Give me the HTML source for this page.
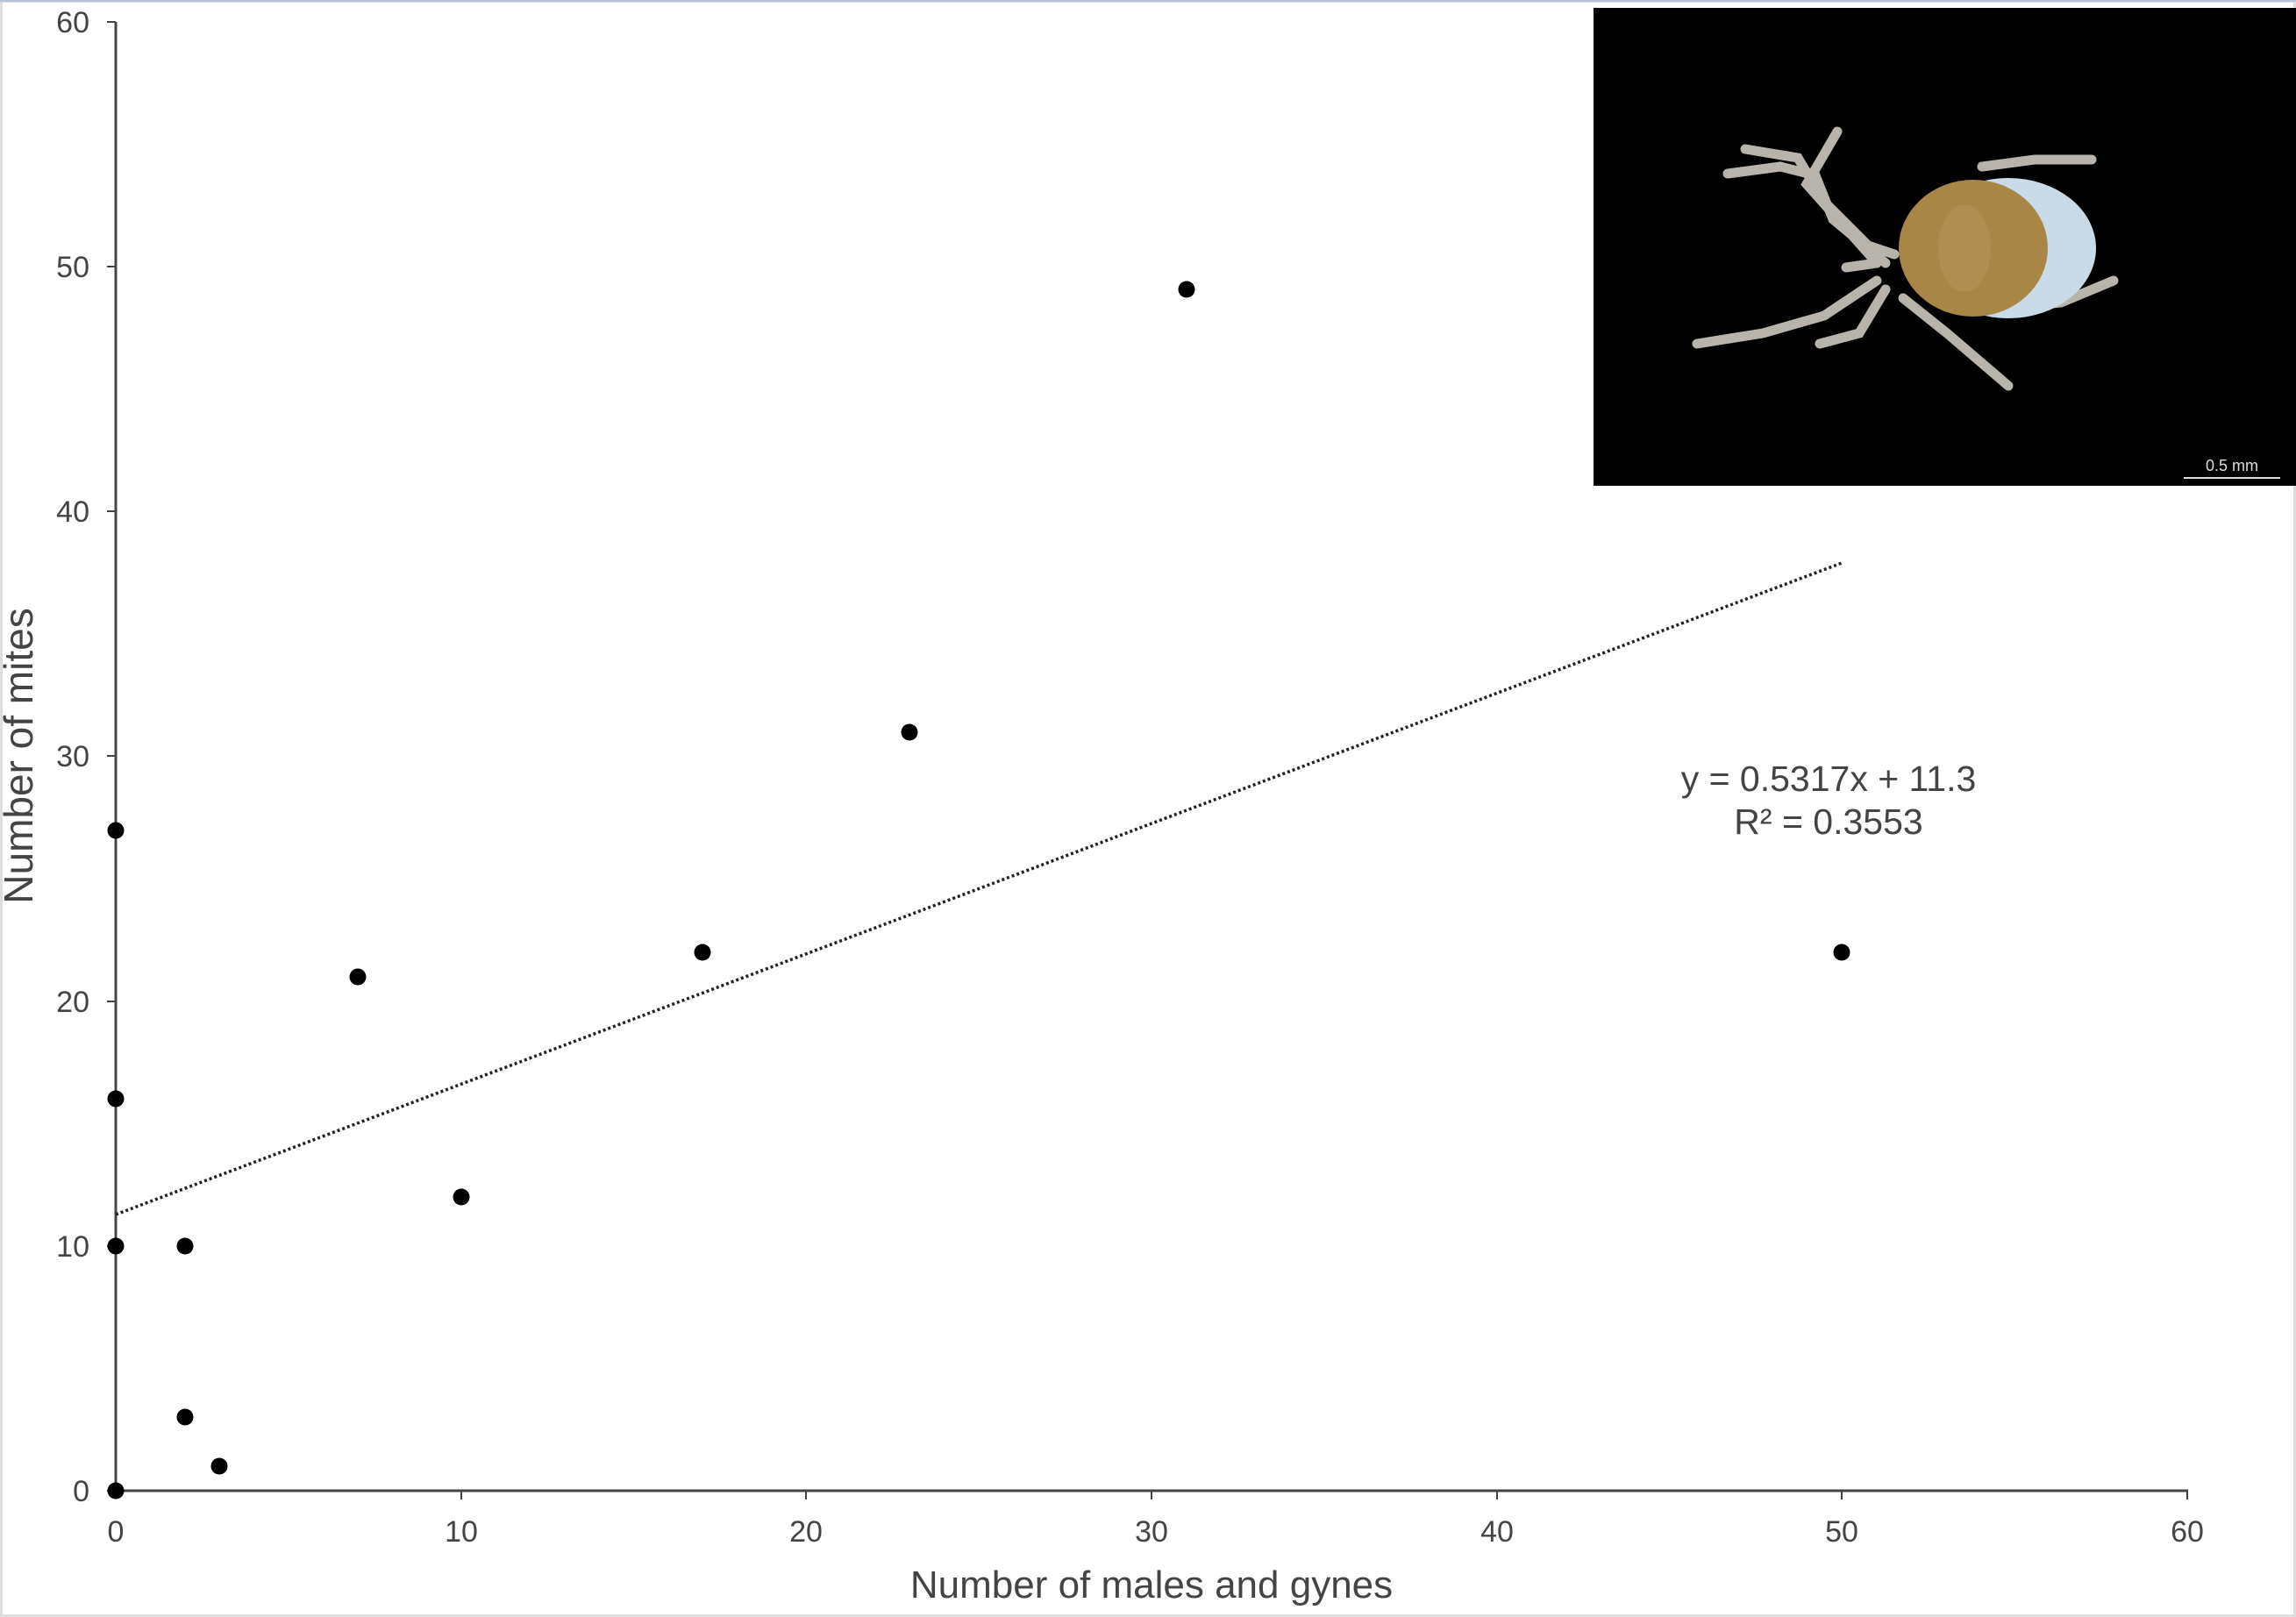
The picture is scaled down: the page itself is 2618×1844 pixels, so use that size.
<!DOCTYPE html>
<html><head><style>
html,body{margin:0;padding:0;background:#fff;}
svg{display:block;}
text{font-family:"Liberation Sans",Arial,sans-serif;fill:#444;}
</style></head><body>
<svg width="2618" height="1844" viewBox="0 0 2618 1844" xmlns="http://www.w3.org/2000/svg">
<rect x="0" y="0" width="2618" height="1844" fill="#fff"/>
<rect x="1.5" y="1.5" width="2615" height="1841" fill="none" stroke="#ddd" stroke-width="3"/>
<line x1="0" y1="1" x2="2618" y2="1" stroke="#b8c4dc" stroke-width="2"/>
<line x1="132" y1="25" x2="132" y2="1701" stroke="#444" stroke-width="3"/>
<line x1="131" y1="1700" x2="2495" y2="1700" stroke="#444" stroke-width="3"/>
<g stroke="#444" stroke-width="2">
<line x1="122" y1="25" x2="132" y2="25"/><line x1="122" y1="304" x2="132" y2="304"/><line x1="122" y1="583" x2="132" y2="583"/><line x1="122" y1="862" x2="132" y2="862"/><line x1="122" y1="1142" x2="132" y2="1142"/><line x1="122" y1="1421" x2="132" y2="1421"/><line x1="122" y1="1700" x2="132" y2="1700"/>
<line x1="526" y1="1700" x2="526" y2="1710"/><line x1="919" y1="1700" x2="919" y2="1710"/><line x1="1313" y1="1700" x2="1313" y2="1710"/><line x1="1707" y1="1700" x2="1707" y2="1710"/><line x1="2100" y1="1700" x2="2100" y2="1710"/><line x1="2494" y1="1700" x2="2494" y2="1710"/>
</g>
<g font-size="34" text-anchor="end">
<text x="102" y="37">60</text><text x="102" y="316">50</text><text x="102" y="595">40</text><text x="102" y="874">30</text><text x="102" y="1154">20</text><text x="102" y="1433">10</text><text x="102" y="1712">0</text>
</g>
<g font-size="34" text-anchor="middle">
<text x="132" y="1758">0</text><text x="526" y="1758">10</text><text x="919" y="1758">20</text><text x="1313" y="1758">30</text><text x="1707" y="1758">40</text><text x="2100" y="1758">50</text><text x="2494" y="1758">60</text>
</g>
<text x="1313" y="1822" font-size="44" text-anchor="middle">Number  of males and gynes</text>
<text transform="translate(37,862) rotate(-90)" font-size="46" text-anchor="middle">Number  of mites</text>
<line x1="132" y1="1385" x2="2100" y2="642" stroke="#222" stroke-width="3.5" stroke-dasharray="3,3"/>
<g fill="#000">
<circle cx="132" cy="1700" r="9.5"/><circle cx="132" cy="1421" r="9.5"/><circle cx="132" cy="1253" r="9.5"/><circle cx="132" cy="947" r="9.5"/>
<circle cx="211" cy="1421" r="9.5"/><circle cx="211" cy="1616" r="9.5"/><circle cx="250" cy="1672" r="9.5"/>
<circle cx="408" cy="1114" r="9.5"/><circle cx="526" cy="1365" r="9.5"/><circle cx="801" cy="1086" r="9.5"/>
<circle cx="1037" cy="835" r="9.5"/><circle cx="1353" cy="330" r="9.5"/><circle cx="2100" cy="1086" r="9.5"/>
</g>
<text x="2085" y="902" font-size="41" text-anchor="middle" fill="#333">y = 0.5317x + 11.3</text>
<text x="2085" y="951" font-size="41" text-anchor="middle" fill="#333">R² = 0.3553</text>
<rect x="1817" y="9" width="801" height="545" fill="#000"/>
<g stroke="#b8b4ac" stroke-width="11" stroke-linecap="round" fill="none">
<path d="M1990 170 L2050 180 L2080 230 L2130 280 L2160 290"/>
<path d="M1970 198 L2030 190 L2070 200 L2090 250 L2150 300"/>
<path d="M2095 150 L2060 210 L2140 300"/>
<path d="M2260 190 L2320 182 L2385 182"/>
<path d="M2140 320 L2080 360 L2010 380 L1935 392"/>
<path d="M2150 330 L2120 380 L2075 392"/>
<path d="M2170 340 L2220 380 L2290 440"/>
<path d="M2300 350 L2350 345 L2410 320"/>
<path d="M2140 300 L2105 305"/>
</g>
<ellipse cx="2290" cy="283" rx="100" ry="80" fill="#c9dbe8"/>
<ellipse cx="2250" cy="283" rx="85" ry="78" fill="#a88645"/>
<ellipse cx="2240" cy="283" rx="30" ry="50" fill="#b4955a" opacity="0.6"/>
<text x="2545" y="537" font-size="18" text-anchor="middle" style="fill:#ddd">0.5 mm</text>
<line x1="2490" y1="545" x2="2600" y2="545" stroke="#ddd" stroke-width="2"/>
</svg>
</body></html>
